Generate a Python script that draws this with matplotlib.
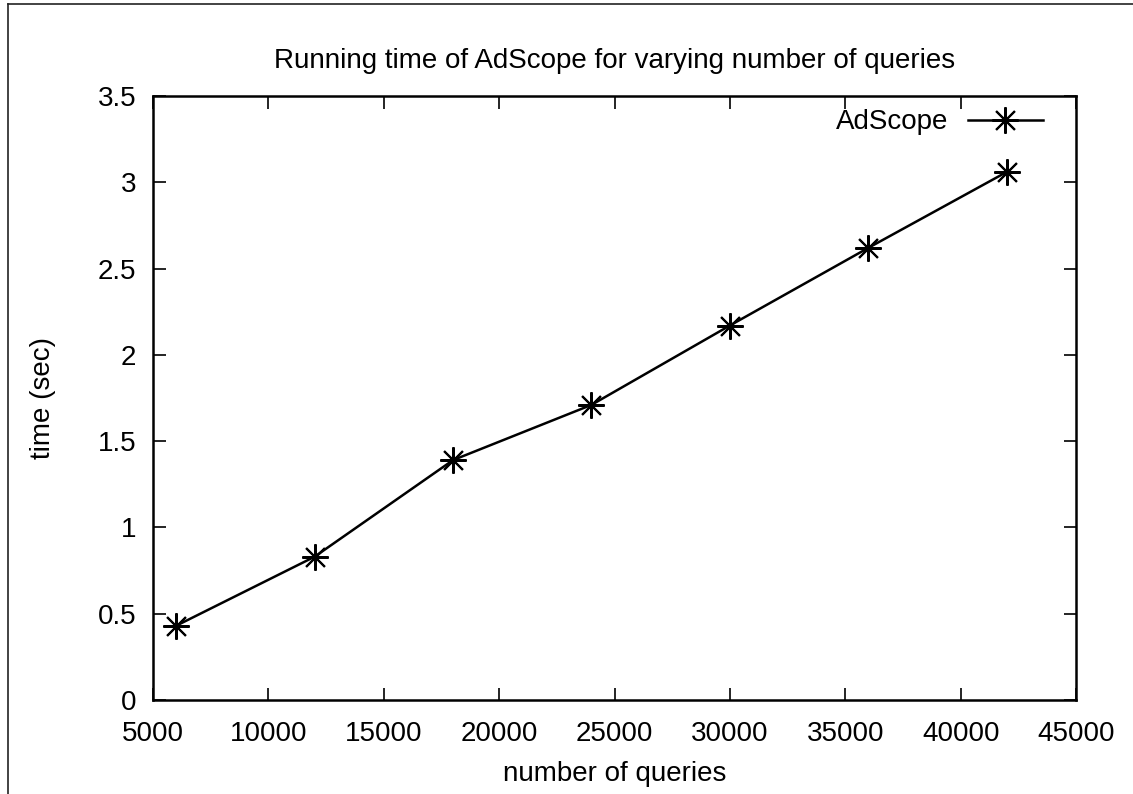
import matplotlib.pyplot as plt
from matplotlib.lines import Line2D

plt.rcParams['font.family'] = ['Liberation Sans', 'DejaVu Sans']

consultas = [6000, 12000, 18000, 24000, 30000, 36000, 42000]
tiempos = [0.43, 0.83, 1.39, 1.71, 2.17, 2.62, 3.06]

xticks = [5000, 10000, 15000, 20000, 25000, 30000, 35000, 40000, 45000]
yticks = [0, 0.5, 1, 1.5, 2, 2.5, 3, 3.5]

fig = plt.figure(figsize=(11.33, 7.94), dpi=100)
ax = fig.add_axes([153 / 1133, 1 - 700 / 794, (1076 - 153) / 1133, (700 - 96) / 794])

# marco exterior (solo se ven los bordes izquierdo y superior)
fig.add_artist(Line2D([8 / 1133, 8 / 1133], [0, 1 - 4 / 794], color='#222222', lw=1.2))
fig.add_artist(Line2D([8 / 1133, 1], [1 - 4 / 794, 1 - 4 / 794], color='#222222', lw=1.2))

ax.plot(consultas, tiempos, color='black', lw=1.8,
        marker=(8, 2, 0), markersize=19, markeredgewidth=1.5, label='AdScope')

ax.set_xlim(5000, 45000)
ax.set_ylim(0, 3.5)
ax.set_xticks(xticks)
ax.set_yticks(yticks)
ax.set_yticklabels(['0', '0.5', '1', '1.5', '2', '2.5', '3', '3.5'])

ax.tick_params(direction='in', length=9, width=1.2, top=True, right=True,
               labelsize=20, pad=12)
ax.tick_params(axis='x', pad=15)
for s in ax.spines.values():
    s.set_linewidth(1.8)

ax.set_title("Running time of AdScope for varying number of queries", fontsize=20, pad=20)
ax.set_xlabel("number of queries", fontsize=20, labelpad=10)
ax.set_ylabel("time (sec)", fontsize=20, labelpad=30)

ax.legend(loc='upper right', bbox_to_anchor=(0.964, 0.978), frameon=False,
          markerfirst=False, fontsize=20, handlelength=2.7, borderpad=0,
          borderaxespad=0, handletextpad=0.7)

fig.savefig('out.png', dpi=100)
